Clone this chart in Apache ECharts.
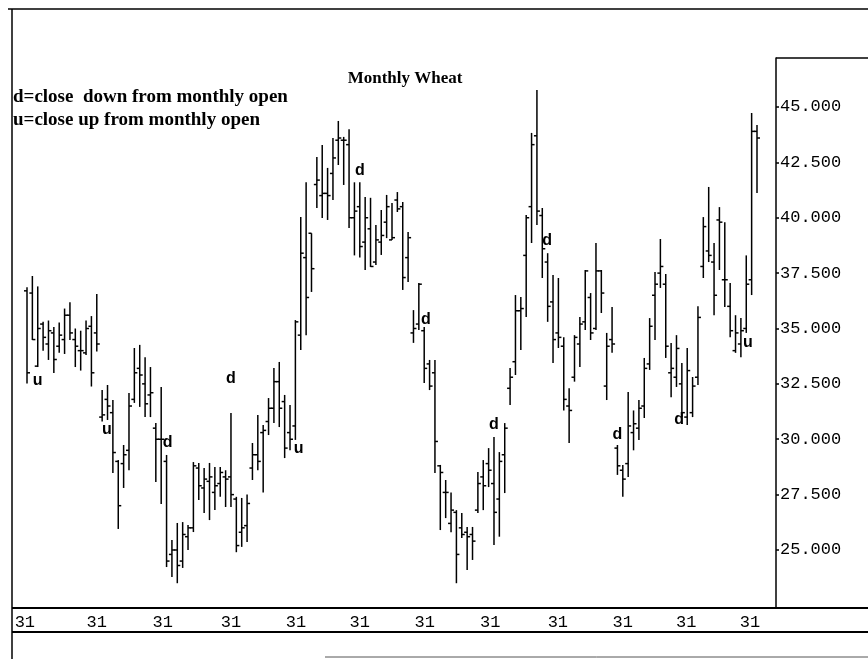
<!DOCTYPE html>
<html>
<head>
<meta charset="utf-8">
<script src="https://cdn.jsdelivr.net/npm/echarts@6/dist/echarts.min.js"></script>
<style>
html,body{margin:0;padding:0;background:#fff;}
#chart{width:868px;height:659px;}
</style>
</head>
<body>
<div id="chart"></div>
<script>
// Monthly OHLC (wheat)
const opens  = [36.7,36.6,33.3,35.2,34.3,34.8,34.2,34.5,35.6,34.5,34.0,33.9,35.1,34.8,
  31.0,31.8,31.2,29.0,28.9,29.5,31.8,33.2,32.5,32.0,30.5,30.0,29.0,24.8,25.0,24.5,25.6,26.0,28.7,27.8,28.1,27.6,28.0,28.3,28.3,27.3,25.8,26.1,28.7,29.3,30.3,30.8,31.4,32.6,31.7,30.3,30.6,
  34.7,38.2,39.3,41.5,41.0,41.1,42.0,43.5,43.5,43.3,40.0,40.5,38.9,39.5,38.0,38.9,39.8,39.0,40.8,40.5,38.2,34.8,35.2,34.9,33.4,33.0,
  28.8,27.6,26.2,26.7,26.0,25.8,25.7,26.8,28.3,28.9,28.0,27.3,29.3,32.3,33.5,35.8,38.3,40.5,43.7,40.1,38.0,36.2,34.8,34.2,31.5,32.8,34.3,35.3,36.4,35.0,37.6,32.4,34.5,
  29.6,28.6,28.9,30.3,30.5,31.5,33.4,36.5,37.5,37.0,33.0,32.8,32.5,31.0,31.2,32.8,37.8,38.5,38.0,39.9,37.2,36.0,34.0,34.3,35.0,37.2,43.9];
const highs  = [36.86,37.37,36.9,35.3,35.36,35.07,35.27,35.9,36.19,35.0,34.9,35.36,35.56,36.56,
  32.22,32.45,31.77,29.06,29.74,32.09,34.12,34.26,33.7,33.26,30.73,32.36,29.29,25.45,26.22,26.26,26.13,28.97,28.93,28.7,28.93,28.75,28.75,28.6,31.18,27.4,27.35,27.5,29.83,31.1,30.64,31.86,33.22,33.49,32.0,31.55,35.38,
  40.03,41.6,39.3,42.74,43.28,42.25,43.6,44.37,43.65,44.0,41.6,41.6,40.94,40.9,39.67,40.35,41.03,40.67,41.16,40.71,39.36,35.83,37.05,35.07,33.58,33.58,
  28.84,28.16,27.6,26.8,26.67,26.04,26.04,28.52,29.06,29.6,30.1,29.42,30.73,33.22,36.51,36.42,40.12,43.83,45.77,40.44,38.4,37.42,37.28,34.6,32.3,34.7,35.52,37.64,36.6,38.86,37.64,34.8,35.97,
  29.74,28.84,32.13,31.3,31.77,33.67,35.47,37.55,39.04,37.46,34.35,34.7,33.44,34.12,32.81,36.0,40.03,41.39,38.86,40.48,39.8,37.05,35.6,35.47,38.3,44.73,44.19];
const lows   = [32.52,34.48,33.26,34.0,33.58,32.99,33.9,33.85,34.48,33.26,33.1,33.8,32.38,33.96,
  30.8,30.87,28.48,25.95,27.8,28.6,31.64,31.46,31.0,31.0,28.07,27.08,24.23,23.78,23.5,24.19,25.0,25.81,27.26,26.67,26.35,26.8,27.4,26.94,26.94,24.9,25.14,25.36,28.16,28.6,27.6,30.19,30.73,30.55,29.15,29.5,29.97,
  34.03,34.7,36.65,40.44,39.99,39.9,40.8,42.38,41.48,39.54,38.3,38.2,37.64,37.78,37.87,38.32,39.08,39.0,40.26,36.74,37.1,34.35,34.93,32.54,32.22,28.48,
  25.9,26.44,25.8,23.5,25.54,24.1,24.55,26.67,26.8,27.84,25.23,25.6,27.57,31.55,32.9,34.03,35.52,38.86,39.67,37.28,35.3,33.44,34.12,31.3,29.83,32.6,33.26,34.93,34.48,34.93,35.7,31.77,33.9,
  28.39,27.4,28.3,29.5,29.97,30.96,33.13,34.48,36.83,33.67,31.9,32.36,31.0,30.64,31.0,32.45,37.28,38.0,35.6,37.64,35.97,34.6,33.9,33.7,34.8,36.51,41.12];
const closes = [33.0,34.5,35.0,34.6,34.9,33.6,34.7,35.6,34.8,34.2,34.0,35.0,33.0,34.3,
  31.1,31.5,29.4,27.0,29.3,31.5,33.0,32.9,31.6,32.1,30.0,30.0,24.5,25.0,24.3,25.7,26.0,28.8,27.9,28.2,28.3,27.9,28.5,28.2,27.5,25.2,26.0,27.1,29.3,29.0,30.4,31.4,32.6,31.4,29.6,30.0,35.3,
  38.4,36.4,37.7,41.7,41.1,41.0,42.7,43.6,43.5,40.0,40.3,38.7,40.0,37.8,39.0,39.2,40.5,39.1,40.4,37.3,39.1,35.0,37.0,33.2,32.4,29.9,
  28.5,27.6,26.8,24.8,25.7,25.6,25.4,28.0,27.9,28.6,26.7,29.0,30.5,32.8,35.8,35.9,40.0,43.3,40.3,38.6,36.0,34.5,34.6,31.8,31.3,34.6,35.2,37.6,34.8,37.6,36.6,34.2,34.3,
  28.8,28.2,30.6,30.7,31.4,33.2,35.1,37.0,37.8,34.2,33.2,34.1,31.2,33.1,32.4,35.5,39.6,38.3,36.5,39.8,37.2,34.9,34.8,34.9,37.0,43.9,43.6];

// d/u annotations: [month index, price level, letter]
const noteIdx  = [2, 14.9, 26.2, 38, 50.6, 62, 74.3, 87, 96.9, 110, 121.5, 134.3];
const noteVal  = [32.67, 30.42, 29.83, 32.72, 29.56, 42.11, 35.38, 30.64, 38.95, 30.19, 30.87, 34.35];
const noteText = ['u','u','d','d','u','d','d','d','d','d','d','u'];

// axis tick labels
const yTicks = [25, 27.5, 30, 32.5, 35, 37.5, 40, 42.5, 45];
const xLabelPos = [-0.4, 13.0, 25.3, 38.0, 50.1, 62.0, 74.1, 86.3, 98.9, 111.0, 122.8, 134.7];
const xLabelText = '31';

const ohlc = opens.map((o, i) => [i, o, highs[i], lows[i], closes[i]]);
const notes = noteIdx.map((x, i) => [x, noteVal[i], noteText[i]]);

const chart = echarts.init(document.getElementById('chart'), null, {renderer: 'canvas'});
const LINE = {stroke: '#000', lineWidth: 1.5};
const monoFont = {fontFamily: 'Liberation Mono', fontSize: 17, color: '#000'};

chart.setOption({
  animation: false,
  backgroundColor: '#fff',
  grid: {left: 12, right: 92, top: 58, bottom: 51},
  xAxis: {
    type: 'value', min: -2.795, max: 139.54,
    axisLine: {show: false, onZero: false}, axisTick: {show: false}, splitLine: {show: false},
    axisLabel: Object.assign({customValues: xLabelPos, formatter: () => xLabelText, margin: 6}, monoFont)
  },
  yAxis: {
    type: 'value', position: 'right', min: 22.381, max: 47.212,
    axisLine: {show: true, onZero: false, lineStyle: {color: '#000', width: 1.5}},
    axisTick: {show: true, customValues: yTicks, length: 3, lineStyle: {color: '#000', width: 1.5}},
    splitLine: {show: false},
    axisLabel: Object.assign({customValues: yTicks, formatter: v => v.toFixed(3), margin: 4}, monoFont)
  },
  title: {
    text: 'Monthly Wheat', left: 400, top: 65, textAlign: 'center',
    textStyle: {fontFamily: 'Liberation Serif', fontSize: 17, fontWeight: 'bold', color: '#000'}
  },
  graphic: [
    {type: 'text', left: 13, top: 88, style: {text: 'd=close  down from monthly open', font: 'bold 19px "Liberation Serif"', fill: '#000'}},
    {type: 'text', left: 13, top: 111, style: {text: 'u=close up from monthly open', font: 'bold 19px "Liberation Serif"', fill: '#000'}},
    {type: 'line', shape: {x1: 8, y1: 9, x2: 868, y2: 9}, style: LINE},
    {type: 'line', shape: {x1: 12, y1: 9, x2: 12, y2: 659}, style: LINE},
    {type: 'line', shape: {x1: 776, y1: 58, x2: 868, y2: 58}, style: LINE},
    {type: 'line', shape: {x1: 12, y1: 608, x2: 868, y2: 608}, style: {stroke: '#000', lineWidth: 2}},
    {type: 'line', shape: {x1: 12, y1: 632, x2: 868, y2: 632}, style: {stroke: '#000', lineWidth: 2}},
    {type: 'line', shape: {x1: 325, y1: 657, x2: 868, y2: 657}, style: {stroke: '#555', lineWidth: 1}}
  ],
  series: [
    {
      type: 'custom',
      data: ohlc,
      encode: {x: 0, y: [1, 2, 3, 4]},
      renderItem: function (params, api) {
        const i = api.value(0);
        const o = api.coord([i, api.value(1)]);
        const h = api.coord([i, api.value(2)]);
        const l = api.coord([i, api.value(3)]);
        const c = api.coord([i, api.value(4)]);
        const w = 3;
        return {
          type: 'group',
          children: [
            {type: 'line', shape: {x1: h[0], y1: h[1], x2: l[0], y2: l[1]}, style: LINE},
            {type: 'line', shape: {x1: o[0] - w, y1: o[1], x2: o[0], y2: o[1]}, style: LINE},
            {type: 'line', shape: {x1: c[0], y1: c[1], x2: c[0] + w, y2: c[1]}, style: LINE}
          ]
        };
      }
    },
    {
      type: 'scatter',
      data: notes,
      symbolSize: 1,
      itemStyle: {opacity: 0},
      label: {
        show: true, position: 'inside',
        formatter: p => p.data[2],
        fontFamily: 'Liberation Sans', fontWeight: 'bold', fontSize: 16, color: '#000', opacity: 1
      }
    }
  ]
});
</script>
</body>
</html>
